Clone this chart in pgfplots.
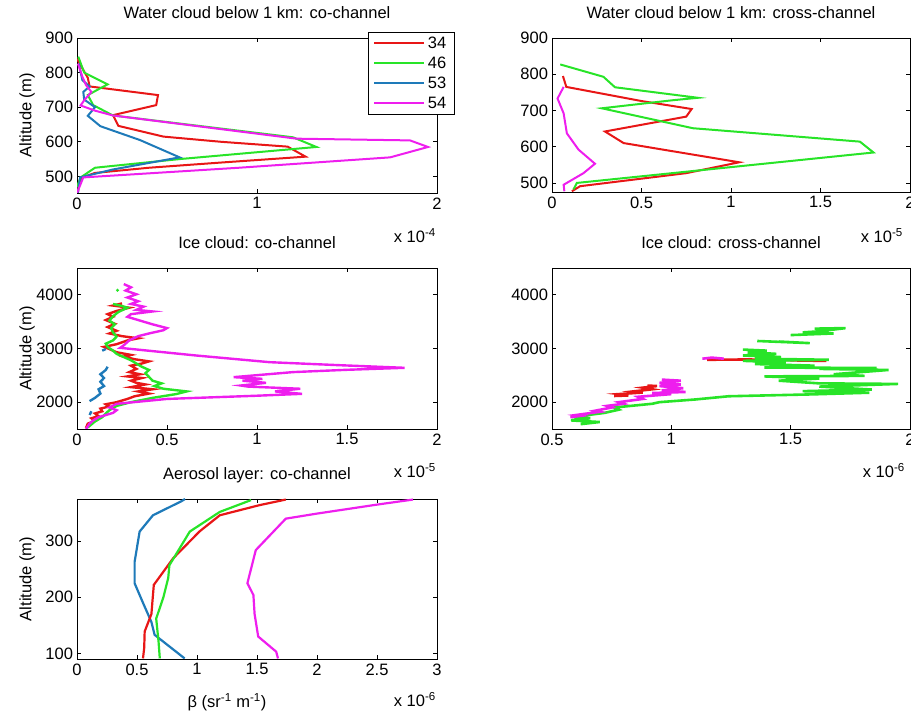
\documentclass[border=0pt]{standalone}
\usepackage{fontspec}
\setmainfont{Liberation Sans}
\usepackage{pgfplots}
\pgfplotsset{compat=1.18}

% line colours of the four profiles
\definecolor{c34}{RGB}{232,22,22}
\definecolor{c46}{RGB}{40,228,40}
\definecolor{c53}{RGB}{30,122,185}
\definecolor{c54}{RGB}{238,30,238}

\newcommand{\mf}{\fontsize{16.5}{19}\selectfont}

\pgfplotsset{
  panel/.style={
    scale only axis,
    anchor=south west,
    axis line style={line width=0.8pt, black},
    tick align=inside,
    xtick pos=both, ytick pos=both,
    xticklabel pos=bottom, yticklabel pos=left,
    major tick length=4pt,
    every tick/.style={black, line width=0.7pt},
    scaled ticks=false,
    /pgf/number format/assume math mode=true,
    /pgf/number format/1000 sep={},
    tick label style={font=\mf},
    xticklabel style={yshift=-1pt},
    yticklabel style={xshift=-0.5pt},
    title style={font=\mf, at={(0.5,1)}, anchor=base, yshift=13pt},
    unbounded coords=jump,
  },
}

\begin{document}
\begin{tikzpicture}[font=\mf]
\useasboundingbox (0,0) rectangle (911pt,712pt);

% ---------------- water cloud, co-channel ----------------
\begin{axis}[panel, at={(77pt,519pt)}, width=360pt, height=155pt,
  xmin=0, xmax=2, ymin=452, ymax=900,
  xtick={0,1,2}, ytick={500,600,700,800,900},
  title={Water cloud below 1 km: co-channel},
  legend style={at={(1.047,1.039)}, anchor=north east, draw=black,
    font=\mf, inner xsep=5pt, inner ysep=2.5pt,
    row sep=3pt, nodes={inner xsep=2.5pt}, cells={anchor=west}},
  legend image code/.code={\draw[#1, line width=2pt] (0pt,0pt) -- (50pt,0pt);},
]
\addplot[c34, line width=2pt] coordinates {
 (0.005,452) (0.01,480) (0.03,497) (0.10,510) (0.40,525) (0.80,540) (1.27,557)
 (1.17,586) (0.80,600) (0.48,615) (0.23,646) (0.20,677) (0.44,706) (0.45,735)
 (0.07,760) (0.06,785) (0.03,812) (0.00,840)};
\addlegendentry{34}
\addplot[c46, line width=2pt] coordinates {
 (0.00,470) (0.02,497) (0.10,525) (0.57,550) (1.33,585) (1.20,613) (0.20,676)
 (0.09,706) (0.06,735) (0.12,752) (0.17,766) (0.04,800) (0.007,846)};
\addlegendentry{46}
\addplot[c53, line width=2pt] coordinates {
 (0.005,452) (0.017,497) (0.20,520) (0.57,555) (0.35,605) (0.13,645) (0.06,675)
 (0.10,700) (0.04,722) (0.035,744) (0.07,760) (0.03,778) (0.01,826)};
\addlegendentry{53}
\addplot[c54, line width=2pt] coordinates {
 (0.00,452) (0.035,497) (0.90,525) (1.74,555) (1.95,585) (1.85,604) (1.22,609)
 (0.20,676) (0.10,690) (0.02,705) (0.04,720) (0.08,744) (0.05,764) (0.03,788)
 (0.005,826)};
\addlegendentry{54}
\end{axis}

% ---------------- water cloud, cross-channel ----------------
\begin{axis}[panel, at={(552pt,520pt)}, width=358pt, height=154pt,
  xmin=0, xmax=2, ymin=475, ymax=900,
  xtick={0,0.5,1,1.5,2}, ytick={500,600,700,800,900},
  title={Water cloud below 1 km: cross-channel},
]
\addplot[c34, line width=2pt] coordinates {
 (0.111,477) (0.157,491) (0.75,527) (1.046,557) (0.40,610) (0.296,642)
 (0.75,683) (0.78,704) (0.50,726) (0.08,765) (0.061,795)};
\addplot[c46, line width=2pt] coordinates {
 (0.12,482) (0.139,500) (1.796,584) (1.72,614) (0.787,651) (0.278,706)
 (0.67,728) (0.815,735) (0.352,764) (0.287,793) (0.046,827)};
\addplot[c54, line width=2pt] coordinates {
 (0.069,477) (0.065,495) (0.176,527) (0.24,553) (0.148,592) (0.083,637)
 (0.065,692) (0.031,733) (0.065,765)};
\end{axis}

% ---------------- ice cloud, co-channel ----------------
\begin{axis}[panel, at={(77pt,283pt)}, width=360pt, height=161pt,
  xmin=0, xmax=2, ymin=1500, ymax=4500,
  xtick={0,0.5,1,1.5,2}, ytick={2000,3000,4000},
  title={Ice cloud: co-channel},
]
\addplot[c34, line width=2.4pt] coordinates {
 (0.05,1520) (0.06,1600) (0.10,1650) (0.08,1700) (0.12,1740) (0.10,1790)
 (0.14,1830) (0.13,1880) (0.18,1920) (0.16,1960) (0.22,2000) (0.28,2060)
 (0.32,2110) (0.40,2160) (0.34,2200) (0.42,2240) (0.30,2280) (0.38,2330)
 (0.33,2360) (0.30,2400) (0.36,2450) (0.28,2480) (0.35,2520) (0.29,2560)
 (0.33,2620) (0.30,2680) (0.36,2720) (0.40,2760) (0.32,2800) (0.26,2850)
 (0.30,2880) (0.22,2930) (0.18,2990) (0.15,3030) (0.22,3080) (0.28,3150)
 (0.34,3190) (0.25,3230) (0.18,3280) (0.22,3330) (0.17,3400) (0.21,3460)
 (0.16,3530) (0.20,3590) (0.17,3640) (0.22,3700) (0.29,3760) (0.20,3800)
 (0.25,3840)};
\addplot[c53, line width=2.4pt] coordinates {
 (0.07,1760) (0.08,1830) (nan,nan)
 (0.07,2020) (0.10,2080) (0.13,2160) (0.12,2240) (0.15,2300) (0.13,2380)
 (0.15,2450) (0.13,2520) (0.16,2600) (0.17,2660) (nan,nan)
 (0.14,2960) (0.16,2990)};
\addplot[c46, line width=2.4pt] coordinates {
 (0.06,1530) (0.10,1640) (0.14,1720) (0.16,1790) (0.18,1850) (0.22,1930)
 (0.30,2000) (0.42,2080) (0.55,2150) (0.61,2200) (0.48,2250) (0.43,2300)
 (0.47,2350) (0.42,2400) (0.40,2470) (0.38,2540) (0.40,2600) (0.36,2660)
 (0.33,2720) (0.30,2780) (0.26,2840) (0.22,2900) (0.20,2960) (0.17,3030)
 (0.16,3090) (0.20,3150) (0.22,3220) (0.20,3300) (0.19,3380) (0.21,3450)
 (0.18,3520) (0.20,3600) (0.23,3680) (0.28,3760) (0.24,3800) (0.20,3830)
 (nan,nan) (0.22,4070) (0.23,4100)};
\addplot[c54, line width=2.4pt] coordinates {
 (0.05,1500) (0.07,1600) (0.09,1660) (0.12,1720) (0.20,1800) (0.22,1850)
 (0.18,1900) (0.22,1969) (0.50,2060) (1.00,2120) (1.25,2155) (1.10,2200)
 (1.24,2250) (0.95,2290) (0.91,2310) (1.05,2360) (0.92,2400) (1.03,2435)
 (0.87,2466) (1.20,2560) (1.50,2603) (1.82,2640) (1.45,2690) (1.07,2745)
 (0.66,2870) (0.24,3012) (0.26,3060) (0.29,3150) (0.34,3230) (0.40,3280)
 (0.48,3340) (0.50,3380) (0.42,3450) (0.35,3520) (0.28,3590) (0.30,3640)
 (0.42,3690) (0.33,3720) (0.37,3780) (0.30,3830) (0.34,3880) (0.28,3950)
 (0.33,4010) (0.27,4080) (0.30,4140) (0.26,4200)};
\end{axis}

% ---------------- ice cloud, cross-channel ----------------
\begin{axis}[panel, at={(552pt,283pt)}, width=358pt, height=161pt,
  xmin=0.5, xmax=2, ymin=1500, ymax=4500,
  xtick={0.5,1,1.5,2}, ytick={2000,3000,4000},
  title={Ice cloud: cross-channel},
]
\addplot[c34, line width=2.6pt] coordinates {
 (0.76,2115) (0.82,2125) (0.78,2150) (0.88,2180) (0.84,2200) (0.92,2240)
 (0.88,2270) (0.94,2300) (0.90,2310) (nan,nan)
 (1.15,2790) (1.31,2795) (1.45,2790) (1.54,2775) (1.65,2770)};
\addplot[c46, line width=2.6pt] coordinates {
 (0.62,1590) (0.70,1630) (0.58,1660) (0.66,1700) (0.58,1730) (0.65,1760)
 (0.72,1800) (0.78,1860) (0.76,1900) (0.92,1970) (0.95,2000) (1.10,2050)
 (1.24,2110) (1.59,2145) (1.83,2176) (1.55,2205) (1.84,2235) (1.62,2290)
 (1.95,2340) (1.62,2350) (1.45,2400) (1.62,2440) (1.39,2480) (1.81,2490)
 (1.68,2520) (1.75,2545) (1.91,2600) (1.62,2620) (1.86,2637) (1.39,2645)
 (1.60,2680) (1.35,2710) (1.48,2740) (1.30,2770) (1.66,2790) (1.35,2810)
 (1.46,2840) (1.30,2870) (1.44,2900) (1.32,2930) (1.40,2960) (1.30,2980)
 (nan,nan) (1.36,3140) (1.58,3100) (1.45,3130)
 (nan,nan) (1.50,3250) (1.68,3280) (1.55,3300) (1.62,3320) (1.73,3380) (1.60,3370)};
\addplot[c54, line width=2.6pt] coordinates {
 (0.577,1720) (0.62,1745) (0.60,1760) (0.70,1820) (0.68,1840) (0.75,1900)
 (0.73,1930) (0.80,1970) (0.78,2000) (0.88,2060) (0.86,2100) (1.00,2150)
 (0.92,2170) (1.06,2190) (0.96,2220) (1.05,2260) (0.95,2300) (1.04,2330)
 (0.95,2360) (1.04,2400) (0.96,2420) (nan,nan)
 (1.13,2810) (1.17,2830) (1.22,2810)};
\end{axis}

% ---------------- aerosol layer, co-channel ----------------
\begin{axis}[panel, at={(77pt,53pt)}, width=360pt, height=160pt,
  xmin=0, xmax=3, ymin=90, ymax=375,
  xtick={0,0.5,1,1.5,2,2.5,3}, ytick={100,200,300},
  title={Aerosol layer: co-channel},
]
\addplot[c53, line width=2.2pt] coordinates {
 (0.897,91) (0.647,133) (0.62,156) (0.55,190) (0.48,225) (0.48,263)
 (0.522,317) (0.633,346) (0.87,371) (0.90,375)};
\addplot[c34, line width=2.2pt] coordinates {
 (0.55,91) (0.56,110) (0.564,139) (0.62,170) (0.64,222) (0.80,269)
 (1.02,317) (1.19,346) (1.52,364) (1.74,374)};
\addplot[c46, line width=2.2pt] coordinates {
 (0.69,91) (0.68,120) (0.66,162) (0.72,200) (0.76,234) (0.77,257)
 (0.94,317) (1.19,352) (1.45,373)};
\addplot[c54, line width=2.2pt] coordinates {
 (1.675,91) (1.66,103) (1.51,130) (1.48,170) (1.47,204) (1.42,225)
 (1.49,284) (1.74,340) (2.0,349) (2.5,365) (2.8,374)};
\end{axis}

% axis labels and scale factors
\node[rotate=90, inner sep=0] at (27pt,596.5pt) {Altitude (m)};
\node[rotate=90, inner sep=0] at (27pt,363.5pt) {Altitude (m)};
\node[rotate=90, inner sep=0] at (27pt,133pt) {Altitude (m)};
\node[anchor=base, inner sep=0] at (227pt,4pt) {β (sr\textsuperscript{-1} m\textsuperscript{-1})};
\node[anchor=base east, inner sep=0] at (436pt,469pt) {x 10\textsuperscript{-4}};
\node[anchor=base east, inner sep=0] at (903pt,469pt) {x 10\textsuperscript{-5}};
\node[anchor=base east, inner sep=0] at (436pt,234pt) {x 10\textsuperscript{-5}};
\node[anchor=base east, inner sep=0] at (905pt,234pt) {x 10\textsuperscript{-6}};
\node[anchor=base east, inner sep=0] at (436pt,5pt) {x 10\textsuperscript{-6}};
\end{tikzpicture}
\end{document}
